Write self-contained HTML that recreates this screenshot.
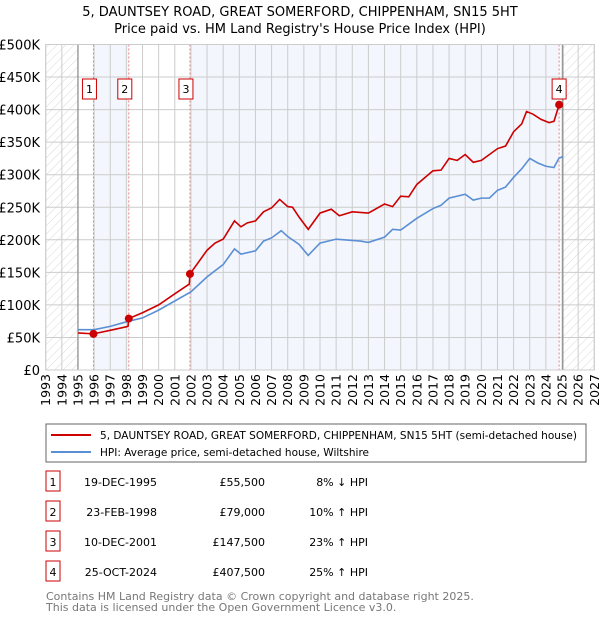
<!DOCTYPE html>
<html><head><meta charset="utf-8"><style>
body{margin:0;background:#fff;font-family:"DejaVu Sans","Liberation Sans",sans-serif;}
svg{display:block}
</style></head><body>
<svg id="c" width="600" height="620" xmlns="http://www.w3.org/2000/svg" font-family="DejaVu Sans, Liberation Sans, sans-serif">
<defs><pattern id="hatch" width="6" height="6" patternUnits="userSpaceOnUse" patternTransform="rotate(45)"><line x1="0" y1="0" x2="0" y2="6" stroke="#d8d8d8" stroke-width="1"/></pattern></defs>
<text x="300" y="16" text-anchor="middle" font-size="13">5, DAUNTSEY ROAD, GREAT SOMERFORD, CHIPPENHAM, SN15 5HT</text>
<text x="300" y="33" text-anchor="middle" font-size="13">Price paid vs. HM Land Registry's House Price Index (HPI)</text>
<g id="plot"></g>
<rect x="46" y="424" width="540" height="38" fill="#fff" stroke="#666"/>
<line x1="51" y1="435" x2="91" y2="435" stroke="#cc0000" stroke-width="2"/>
<text x="100" y="439" font-size="10.5" textLength="477" lengthAdjust="spacingAndGlyphs">5, DAUNTSEY ROAD, GREAT SOMERFORD, CHIPPENHAM, SN15 5HT (semi-detached house)</text>
<line x1="51" y1="452" x2="91" y2="452" stroke="#5b8fd4" stroke-width="2"/>
<text x="100" y="456" font-size="10.5" textLength="269" lengthAdjust="spacingAndGlyphs">HPI: Average price, semi-detached house, Wiltshire</text>
<g id="table" font-size="11"></g>
<text x="46" y="600" font-size="11" fill="#777">Contains HM Land Registry data © Crown copyright and database right 2025.</text>
<text x="46" y="611" font-size="11" fill="#777">This data is licensed under the Open Government Licence v3.0.</text>
</svg>
<script>
const yearTicks=[1993,1994,1995,1996,1997,1998,1999,2000,2001,2002,2003,2004,2005,2006,2007,2008,2009,2010,2011,2012,2013,2014,2015,2016,2017,2018,2019,2020,2021,2022,2023,2024,2025,2026,2027];
const valueTicks=[0,50,100,150,200,250,300,350,400,450,500];
const valueTickLabels=["£0","£50K","£100K","£150K","£200K","£250K","£300K","£350K","£400K","£450K","£500K"];
const hpiYears=[1995,1996,1997,1998,1999,2000,2001,2002,2003,2004,2004.7,2005.1,2006,2006.5,2007,2007.6,2008,2008.7,2009.27,2010,2011,2012.5,2013,2014,2014.5,2015,2016,2017,2017.5,2018,2019,2019.5,2020,2020.5,2021,2021.5,2022,2022.5,2023,2023.5,2024,2024.5,2024.8,2025.05];
const hpiValues=[62,62,67,74,80,92,106,120,143,162,186,178,183,198,203,214,205,193,176,195,201,198,196,204,216,215,233,248,253,264,270,261,264,264,276,281,296,309,325,318,313,311,325,328];
const priceYears=[1995,1995.96,1997,1998.1,1998.15,1999,2000,2001,2001.9,2001.94,2003,2003.5,2004,2004.7,2005.1,2005.5,2006,2006.5,2007,2007.5,2008,2008.3,2008.7,2009.27,2010,2010.7,2011.2,2012,2013,2014,2014.5,2015,2015.5,2016,2017,2017.5,2018,2018.5,2019,2019.5,2020,2021,2021.5,2022,2022.5,2022.8,2023.2,2023.7,2024.2,2024.5,2024.82];
const priceValues=[57,55.5,61,67,79,88,100,117,132,147.5,184,195,201,229,220,226,229,243,249,262,251,250,235,216,241,247,237,243,241,255,251,267,266,285,306,307,325,322,331,319,322,340,344,366,378,397,393,385,380,382,407.5];
const saleLabels=["1","2","3","4"];
const saleYears=[1995.96,1998.15,2001.94,2024.82];
const saleValues=[55.5,79,147.5,407.5];
const saleDates=["19-DEC-1995","23-FEB-1998","10-DEC-2001","25-OCT-2024"];
const salePrices=["£55,500","£79,000","£147,500","£407,500"];
const saleDiffs=["8% ↓ HPI","10% ↑ HPI","23% ↑ HPI","25% ↑ HPI"];

const X0=45.7,X1=594.3,Y0=370,Y1=44.5;
const xs=y=>X0+(y-1993)*(X1-X0)/34;
const ys=v=>Y0-v*(Y0-Y1)/500;
const NS="http://www.w3.org/2000/svg";
const plot=document.getElementById('plot');
function mk(tag,attrs,parent){const e=document.createElementNS(NS,tag);for(const k in attrs)e.setAttribute(k,attrs[k]);(parent||plot).appendChild(e);return e;}

let e;
e=mk('rect',{x:X0,y:Y1,width:X1-X0,height:Y0-Y1,fill:'#fff'});


e=mk('rect',{x:X0,y:Y1,width:xs(1995)-X0,height:Y0-Y1,fill:'url(#hatch)'});


e=mk('rect',{x:xs(2025.05),y:Y1,width:X1-xs(2025.05),height:Y0-Y1,fill:'url(#hatch)'});


e=mk('rect',{x:xs(saleYears[0]),y:Y1,width:xs(saleYears[1])-xs(saleYears[0]),height:Y0-Y1,fill:'#f3f6fd'});


e=mk('rect',{x:xs(saleYears[2]),y:Y1,width:xs(saleYears[3])-xs(saleYears[2]),height:Y0-Y1,fill:'#f3f6fd'});



valueTicks.forEach((v,i)=>{
 e=mk('line',{x1:X0,x2:X1,y1:ys(v),y2:ys(v),stroke:'#ccc','stroke-width':1});
 
 
 e=mk('text',{x:40,y:ys(v)+5,'text-anchor':'end','font-size':13});
 e.textContent=valueTickLabels[i];
 
 
});
yearTicks.forEach(yr=>{
 e=mk('line',{x1:xs(yr),x2:xs(yr),y1:Y1,y2:Y0,stroke:'#ccc','stroke-width':1});
 
 
 e=mk('text',{x:0,y:0,'text-anchor':'end','font-size':12.5,transform:`translate(${xs(yr)+4.5},${374}) rotate(-90)`});
 e.textContent=yr;
 
 
});
[1995,2025.05].forEach(yr=>{
 e=mk('line',{x1:xs(yr),x2:xs(yr),y1:Y1,y2:Y0,stroke:'#888','stroke-width':1.2});
 
 
});
saleYears.forEach((yr,i)=>{
 e=mk('line',{x1:xs(yr),x2:xs(yr),y1:Y1,y2:Y0,stroke:'#f08080','stroke-width':1,'stroke-dasharray':'2,2'});
 
 
});
e=mk('polyline',{points:hpiYears.map((y,i)=>xs(y)+','+ys(hpiValues[i])).join(' '),fill:'none',stroke:'#5b8fd4','stroke-width':1.6});


e=mk('polyline',{points:priceYears.map((y,i)=>xs(y)+','+ys(priceValues[i])).join(' '),fill:'none',stroke:'#cc0000','stroke-width':1.6});


saleYears.forEach((yr,i)=>{
 e=mk('circle',{cx:xs(yr),cy:ys(saleValues[i]),r:4,fill:'#cc0000'});
 
 
 const bx=i==3?xs(yr)-7:xs(yr)-11, by=79;
 e=mk('rect',{x:bx,y:by,width:14,height:20,fill:'#fff',stroke:'#cc0000'});
 
 
 e=mk('text',{x:bx+7,y:by+14,'text-anchor':'middle','font-size':11});
 e.textContent=saleLabels[i];
 
 
});
e=mk('rect',{x:X0,y:Y1,width:X1-X0,height:Y0-Y1,fill:'none',stroke:'#ccc'});



const tbl=document.getElementById('table');
const rowY=[483,513,543,573];
saleLabels.forEach((l,i)=>{
 const y=rowY[i];
 e=mk('rect',{x:46,y:y-12,width:14,height:20,fill:'#fff',stroke:'#cc0000'},tbl);
 
 
 e=mk('text',{x:53,y:y+3,'text-anchor':'middle'},tbl);e.textContent=l;
 
 
 e=mk('text',{x:157,y:y+3,'text-anchor':'end'},tbl);e.textContent=saleDates[i];
 
 
 e=mk('text',{x:265,y:y+3,'text-anchor':'end'},tbl);e.textContent=salePrices[i];
 
 
 e=mk('text',{x:368,y:y+3,'text-anchor':'end'},tbl);e.textContent=saleDiffs[i];
 
 
});
</script>
</body></html>
